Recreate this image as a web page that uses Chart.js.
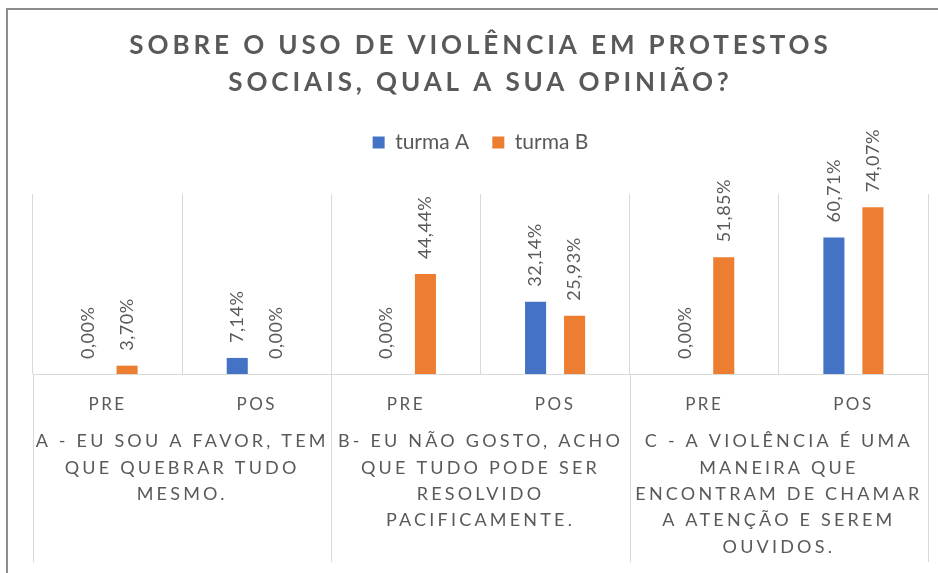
<!DOCTYPE html>
<html><head><meta charset="utf-8">
<script src="https://cdn.jsdelivr.net/npm/chart.js@4.4.1/dist/chart.umd.min.js"></script>
<style>
html,body{margin:0;padding:0;background:#fff;overflow:hidden;width:938px;height:573px;}
#wrap{position:relative;width:938px;height:573px;overflow:hidden;}
canvas{position:absolute;left:0;top:0;}
#frame{position:absolute;left:6px;top:8px;width:1000px;height:1000px;border-left:2px solid #8c8c8c;border-top:2px solid #8c8c8c;pointer-events:none;}
</style></head><body>
<div id="wrap"><canvas id="c" width="938" height="573"></canvas><div id="frame"></div></div>
<script>
const titleLines = ['SOBRE O USO DE VIOLÊNCIA EM PROTESTOS', 'SOCIAIS, QUAL A SUA OPINIÃO?'];
const seriesNames = ['turma A', 'turma B'];
const categories = ['PRE', 'POS', 'PRE', 'POS', 'PRE', 'POS'];
const groupLabels = [
  ['A - EU SOU A FAVOR, TEM', 'QUE QUEBRAR TUDO', 'MESMO.'],
  ['B- EU NÃO GOSTO, ACHO', 'QUE TUDO PODE SER', 'RESOLVIDO', 'PACIFICAMENTE.'],
  ['C - A VIOLÊNCIA É UMA', 'MANEIRA QUE', 'ENCONTRAM DE CHAMAR', 'A ATENÇÃO E SEREM', 'OUVIDOS.']
];
const turmaA = [0.00, 7.14, 0.00, 32.14, 0.00, 60.71];
const turmaB = [3.70, 0.00, 44.44, 25.93, 51.85, 74.07];
const yMin = 0;
const yMax = 80;

const TEXT = '#595959';
const GRID = '#d9d9d9';

function withSpacing(fn, spacing) {
  return function () {
    const ctx = this.ctx;
    const prev = ctx.letterSpacing;
    ctx.letterSpacing = spacing;
    try { return fn.apply(this, arguments); }
    finally { ctx.letterSpacing = prev || '0px'; }
  };
}

const spacingPlugin = {
  id: 'spacing',
  beforeDraw(chart) {
    const t = chart.titleBlock;
    if (t && !t._sp) { t.draw = withSpacing(t.draw, '3.9px'); t._sp = true; }
    const sx = chart.scales.x;
    if (sx && !sx._sp) { sx.drawLabels = withSpacing(sx.drawLabels, '2.5px'); sx._sp = true; }
    const sg = chart.scales.xg;
    if (sg && !sg._sp) { sg.drawLabels = withSpacing(sg.drawLabels, '3.2px'); sg._sp = true; }
  }
};

const separators = {
  id: 'separators',
  beforeDatasetsDraw(chart) {
    const xg = chart.scales.xg;
    const ctx = chart.ctx;
    const n = xg.getLabels().length;
    const half = (xg.getPixelForValue(1) - xg.getPixelForValue(0)) / 2;
    const top = chart.chartArea.bottom;
    const bottom = xg.bottom - 11;
    ctx.save();
    ctx.strokeStyle = GRID;
    ctx.lineWidth = 1;
    ctx.beginPath();
    for (let k = 0; k <= n; k++) {
      const px = k < n ? xg.getPixelForValue(k) - half : xg.getPixelForValue(n - 1) + half;
      const x = Math.round(px) + 0.5;
      ctx.moveTo(x, top);
      ctx.lineTo(x, bottom);
    }
    ctx.stroke();
    ctx.restore();
  }
};

const valueLabels = {
  id: 'valueLabels',
  afterDatasetsDraw(chart) {
    const ctx = chart.ctx;
    ctx.save();
    ctx.font = '18px Lato';
    ctx.fillStyle = TEXT;
    ctx.letterSpacing = '0.5px';
    ctx.textAlign = 'left';
    ctx.textBaseline = 'middle';
    chart.data.datasets.forEach((ds, di) => {
      const meta = chart.getDatasetMeta(di);
      meta.data.forEach((bar, i) => {
        const txt = ds.data[i].toFixed(2).replace('.', ',') + '%';
        ctx.save();
        ctx.translate(bar.x, bar.y - 15);
        ctx.rotate(-Math.PI / 2);
        ctx.fillText(txt, 0, 0);
        ctx.restore();
      });
    });
    ctx.restore();
  }
};

new Chart(document.getElementById('c'), {
  type: 'bar',
  data: {
    labels: categories,
    datasets: [
      { label: seriesNames[0], data: turmaA, backgroundColor: '#4472c4', borderWidth: 0 },
      { label: seriesNames[1], data: turmaB, backgroundColor: '#ed7d31', borderWidth: 0 }
    ]
  },
  options: {
    responsive: false,
    animation: false,
    devicePixelRatio: 1,
    categoryPercentage: 0.523,
    barPercentage: 0.54,
    layout: { padding: { left: 33, right: 10, top: 0, bottom: 0 } },
    plugins: {
      title: {
        display: true,
        text: titleLines,
        color: TEXT,
        font: { family: 'Lato', size: 26, weight: 'bold', lineHeight: '37px' },
        padding: { top: 27, bottom: 8 }
      },
      subtitle: {
        display: true,
        text: '',
        weight: 500,
        padding: 0,
        font: { size: 1, lineHeight: '31px' }
      },
      legend: {
        display: true,
        position: 'top',
        labels: {
          color: TEXT,
          font: { family: 'Lato', size: 21 },
          boxWidth: 12,
          boxHeight: 12,
          padding: 23
        }
      },
      tooltip: { enabled: false }
    },
    scales: {
      x: {
        type: 'category',
        position: 'bottom',
        weight: 0,
        offset: true,
        grid: { display: true, offset: true, color: GRID, lineWidth: 1, drawTicks: false },
        border: { display: true, color: GRID, width: 1 },
        ticks: { color: TEXT, font: { family: 'Lato', size: 17 }, padding: 20, maxRotation: 0, minRotation: 0, autoSkip: false },
        afterFit: s => { s.height = 46; }
      },
      xg: {
        type: 'category',
        position: 'bottom',
        weight: 1,
        labels: groupLabels,
        offset: true,
        grid: { display: false, drawTicks: false },
        border: { display: false },
        ticks: { color: TEXT, font: { family: 'Lato', size: 18, lineHeight: '26.3px' }, padding: 8.5, maxRotation: 0, minRotation: 0, autoSkip: false },
        afterFit: s => { s.height = 153; }
      },
      y: {
        display: false,
        min: yMin,
        max: yMax
      }
    }
  },
  plugins: [spacingPlugin, separators, valueLabels]
});
</script>
</body></html>
